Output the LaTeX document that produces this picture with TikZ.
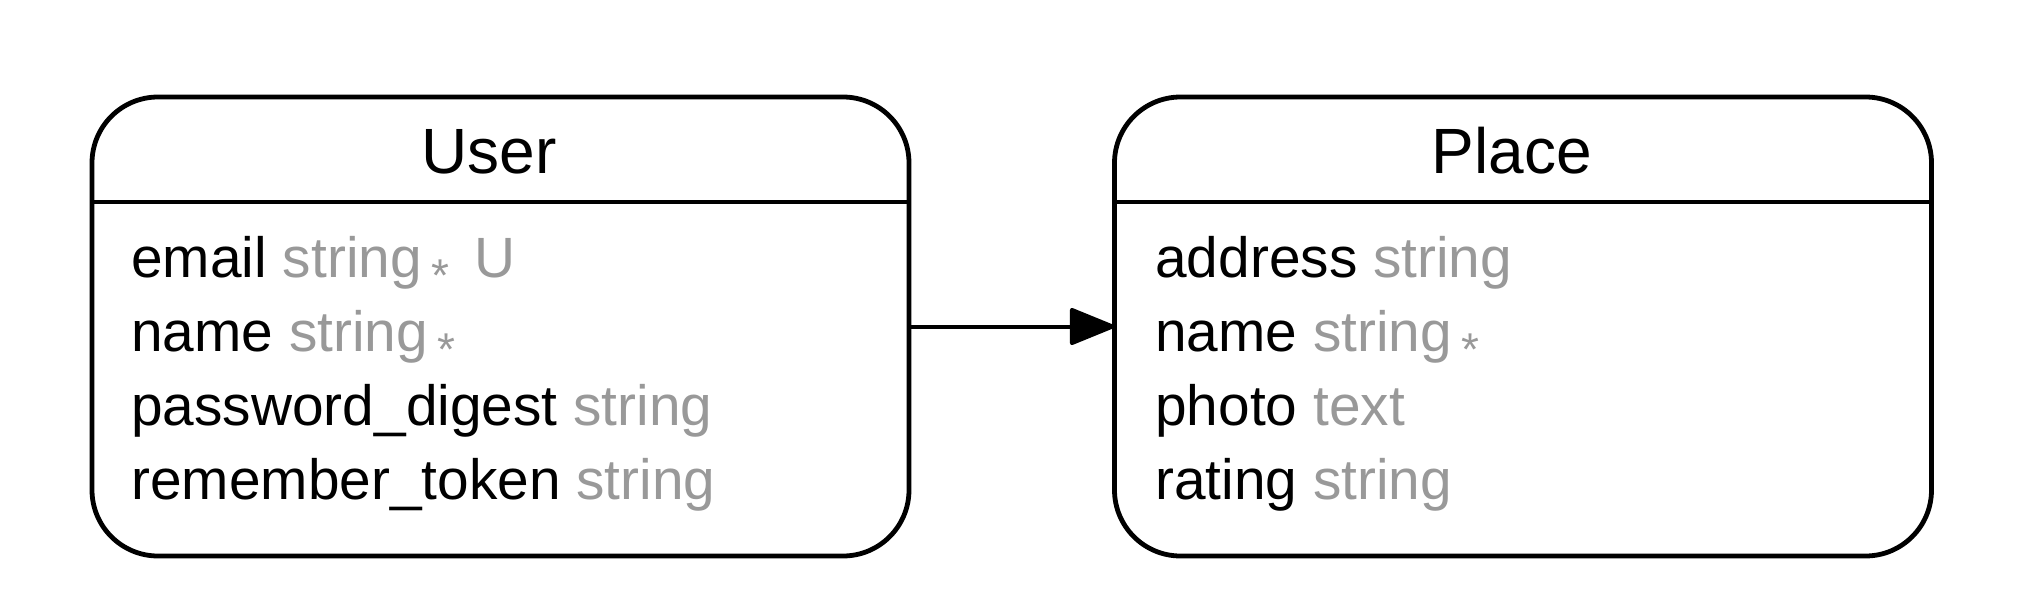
\documentclass[tikz,border=0pt]{standalone}
\usepackage{fontspec}
\setmainfont{Liberation Sans}
\usetikzlibrary{arrows.meta,positioning}

\definecolor{typegray}{HTML}{999999}
\newcommand{\ty}[1]{\textcolor{typegray}{#1}}
\newcommand{\req}{\textcolor{typegray}{\fontsize{23pt}{23pt}\selectfont\raisebox{-7pt}{*}}}

\begin{document}
\begin{tikzpicture}[
  x=0.5pt, y=-0.5pt,
  entity/.style={
    draw=black,
    line width=2.4pt,
    rounded corners=33pt,
    minimum width=408.5pt,
    minimum height=229.5pt,
    anchor=north west,
    inner sep=0pt,
    outer sep=0pt
  },
  title/.style={anchor=base, inner sep=0pt, font=\fontsize{32pt}{38pt}\selectfont},
  attr/.style={anchor=base west, inner sep=0pt, font=\fontsize{28.4pt}{34pt}\selectfont},
  sep/.style={line width=2.4pt, draw=black},
  link/.style={-{Triangle[length=24pt, width=19pt, round]}, line width=2pt, draw=black}
]
\useasboundingbox (0,0) rectangle (2020,616);

% entities
\node[entity] (user) at (92,97) {};
\node[entity] (place) at (1114.5,97) {};

\draw[sep] ([yshift=-52.5pt]user.north west) -- ([yshift=-52.5pt]user.north east);
\draw[sep] ([yshift=-52.5pt]place.north west) -- ([yshift=-52.5pt]place.north east);

\node[title] (usertitle) at (489,173) {User};
\node[title] (placetitle) at (1512,173) {Place};

% attributes of User
\node[attr] (uemail) at (131,277) {email \ty{string}\,\req\, \ty{U}};
\node[attr] (uname) at (131,351) {name \ty{string}\,\req};
\node[attr] (upass) at (131,425) {password\_digest \ty{string}};
\node[attr] (utoken) at (131,499) {remember\_token \ty{string}};

% attributes of Place
\node[attr] (paddress) at (1155,277) {address \ty{string}};
\node[attr] (pname) at (1155,351) {name \ty{string}\,\req};
\node[attr] (pphoto) at (1155,425) {photo \ty{text}};
\node[attr] (prating) at (1155,499) {rating \ty{string}};

\draw[link] (user) -- (place);

\end{tikzpicture}
\end{document}
